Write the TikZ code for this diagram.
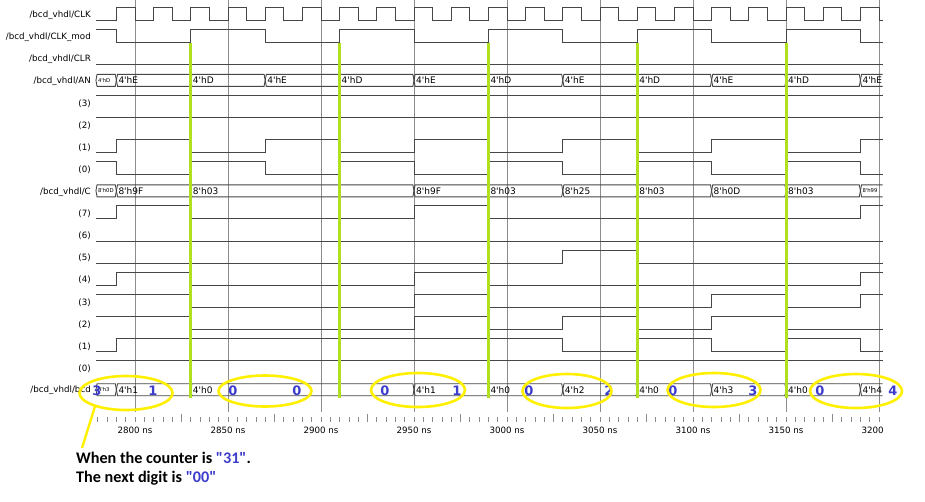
\documentclass[tikz,border=0pt]{standalone}
\usepackage{fontspec}
\usepackage{tikz}
\usetikzlibrary{shapes.geometric, positioning}
\newfontfamily\wavefont{DejaVu Sans}
\newfontfamily\notefont{Carlito}
\newcommand{\apos}{\textquotesingle}
\definecolor{wavegray}{RGB}{70,70,70}
\definecolor{gridgray}{RGB}{140,140,140}
\definecolor{markgreen}{RGB}{176,224,30}
\definecolor{ringyellow}{RGB}{255,240,0}
\definecolor{digitblue}{RGB}{60,60,205}
\tikzstyle{wave} = [draw=wavegray, line width=0.9pt]
\tikzstyle{gridline} = [draw=gridgray, line width=0.7pt]
\tikzstyle{tick} = [draw=gridgray, line width=0.7pt]
\tikzstyle{siglabel} = [anchor=east, inner sep=0pt, font=\wavefont\fontsize{8.7}{10}\selectfont]
\tikzstyle{timelabel} = [inner sep=0pt, font=\wavefont\fontsize{8.7}{10}\selectfont]
\tikzstyle{busfont} = [anchor=west, inner sep=0.8pt, font=\wavefont\fontsize{9}{10}\selectfont]
\tikzstyle{smallval} = [font=\wavefont\fontsize{5.3}{6}\selectfont]
\tikzstyle{marker} = [draw=markgreen, line width=3pt]
\tikzstyle{ring} = [ellipse, draw=ringyellow, line width=2.6pt, inner sep=0pt]
\tikzstyle{pointer} = [draw=ringyellow, line width=2.4pt]
\tikzstyle{digit} = [text=digitblue, inner sep=0pt, font=\wavefont\bfseries\fontsize{13}{14}\selectfont]
\tikzstyle{note} = [anchor=base west, inner sep=0pt, font=\notefont\bfseries\fontsize{16.2}{19}\selectfont]
\tikzset{sigrow/.style={shift={(0,{15+22.1*#1})}}}
% bus value: [style] name, start, end, text
\newcommand{\busval}[5][]{%
  \draw[wave] ({#3},-1) -- ({#3+0.6},-7) -- ({#4-0.6},-7) -- ({#4},-1) -- ({#4-0.6},5) -- ({#3+0.6},5) -- cycle;
  \node[busfont,#1] (#2) at ({#3+0.6},-1) {#5};}
% last bus value, open on the right
\newcommand{\busopen}[4][]{%
  \draw[wave] (402,-7) -- ({#3+0.6},-7) -- ({#3},-1) -- ({#3+0.6},5) -- (402,5);
  \node[busfont,#1] (#2) at ({#3+0.6},-1) {#4};}
% one bit: row, start level, time/level list
\newcommand{\bitwave}[3]{%
  \begin{scope}[sigrow=#1]
  \draw[wave] (-21,{5-13*#2}) foreach \t/\v in {#3} { -| (\t,{5-13*\v}) };
  \end{scope}}

\begin{document}
\begin{tikzpicture}[x=1pt, y=-1pt, node distance=1.5cm]
	\fill[white] (0,0) rectangle (925,501);
	\useasboundingbox (0,0) rectangle (925,501);
	% signal names
	\foreach \lbl [count=\i from 0] in {{/bcd\_vhdl/CLK}, {/bcd\_vhdl/CLK\_mod}, {/bcd\_vhdl/CLR}, {/bcd\_vhdl/AN}, {(3)}, {(2)}, {(1)}, {(0)}, {/bcd\_vhdl/C}, {(7)}, {(6)}, {(5)}, {(4)}, {(3)}, {(2)}, {(1)}, {(0)}, {/bcd\_vhdl/bcd}}
		\node[siglabel] (sig\i) at (91,{15+22.1*\i}) {\lbl};
	\begin{scope}[shift={(135,0)}, x=1.86pt]
		% grid and time axis
		\foreach \t in {0,50,...,400} \draw[gridline] (\t,0) -- (\t,412);
		\foreach \t in {-20,-15,...,400} \draw[tick] (\t,417) -- (\t,422);
		\foreach \t in {25,75,...,375} \draw[tick] (\t,414) -- (\t,417);
		\begin{scope}
			\clip (-25,422) rectangle (402,442);
			\foreach \t [evaluate=\t as \ns using int(2800+\t)] in {0,50,...,400}
				\node[timelabel] (ns\t) at (\t,430) {\ns\ ns};
		\end{scope}
		% CLK
		\begin{scope}[sigrow=0]
			\draw[wave] (-21,5) foreach \k in {0,...,20} { -| ({-10+20*\k},-8) -| ({20*\k},5) } -| (402,5);
		\end{scope}
		% CLK_mod
		\begin{scope}[sigrow=1]
			\draw[wave] (-21,-8) -| (-10,5) foreach \k in {0,...,4} { -| ({30+80*\k},-8) -| ({70+80*\k},5) } -| (402,5);
		\end{scope}
		\begin{scope}[sigrow=2]
			\draw[wave] (-21,5) -- (402,5);
		\end{scope}
		% AN
		\begin{scope}[sigrow=3]
			\busval[smallval]{an0}{-21}{-10}{4\apos hD}
			\foreach \k in {0,...,4} {
				\busval{anE\k}{-10+80*\k}{30+80*\k}{4\apos hE}
				\busval{anD\k}{30+80*\k}{70+80*\k}{4\apos hD}
			}
			\busopen{anE5}{390}{4\apos hE}
		\end{scope}
		\bitwave{4}{1}{402/1}
		\bitwave{5}{1}{402/1}
		\begin{scope}[sigrow=6]
			\draw[wave] (-21,5) -| (-10,-8) foreach \k in {0,...,4} { -| ({30+80*\k},5) -| ({70+80*\k},-8) } -| (402,-8);
		\end{scope}
		\begin{scope}[sigrow=7]
			\draw[wave] (-21,-8) -| (-10,5) foreach \k in {0,...,4} { -| ({30+80*\k},-8) -| ({70+80*\k},5) } -| (402,5);
		\end{scope}
		% C
		\begin{scope}[sigrow=8]
			\busval[smallval]{c0}{-21}{-10}{8\apos h0D}
			\busval{c1}{-10}{30}{8\apos h9F}
			\busval{c2}{30}{150}{8\apos h03}
			\busval{c3}{150}{190}{8\apos h9F}
			\busval{c4}{190}{230}{8\apos h03}
			\busval{c5}{230}{270}{8\apos h25}
			\busval{c6}{270}{310}{8\apos h03}
			\busval{c7}{310}{350}{8\apos h0D}
			\busval{c8}{350}{390}{8\apos h03}
			\busopen[smallval]{c9}{390}{8\apos h99}
		\end{scope}
		\bitwave{9}{0}{-10/1, 30/0, 150/1, 190/0, 390/1, 402/1}
		\bitwave{10}{0}{402/0}
		\bitwave{11}{0}{230/1, 270/0, 402/0}
		\bitwave{12}{0}{-10/1, 30/0, 150/1, 190/0, 390/1, 402/1}
		\bitwave{13}{1}{30/0, 150/1, 190/0, 310/1, 350/0, 390/1, 402/1}
		\bitwave{14}{1}{30/0, 150/1, 190/0, 230/1, 270/0, 310/1, 350/0, 402/0}
		\bitwave{15}{0}{-10/1, 230/0, 270/1, 310/0, 350/1, 390/0, 402/0}
		\bitwave{16}{1}{402/1}
		% bcd
		\begin{scope}[sigrow=17]
			\busval[smallval]{bcd0}{-21}{-10}{4\apos h3}
			\busval{bcd1}{-10}{30}{4\apos h1}
			\busval{bcd2}{30}{150}{4\apos h0}
			\busval{bcd3}{150}{190}{4\apos h1}
			\busval{bcd4}{190}{230}{4\apos h0}
			\busval{bcd5}{230}{270}{4\apos h2}
			\busval{bcd6}{270}{310}{4\apos h0}
			\busval{bcd7}{310}{350}{4\apos h3}
			\busval{bcd8}{350}{390}{4\apos h0}
			\busopen{bcd9}{390}{4\apos h4}
		\end{scope}
		\foreach \t in {30,110,190,270,350} \draw[marker] (\t,43) -- (\t,398);
	\end{scope}
	% digits shown on the display
	\node[digit] (d1) at (97,391) {3};
	\node[digit] (d2) at (153,391) {1};
	\node[digit] (d3) at (233,391) {0};
	\node[digit] (d4) at (297,391) {0};
	\node[digit] (d5) at (385,391) {0};
	\node[digit] (d6) at (457,391) {1};
	\node[digit] (d7) at (529,391) {0};
	\node[digit] (d8) at (609,391) {2};
	\node[digit] (d9) at (673,391) {0};
	\node[digit] (d10) at (753,391) {3};
	\node[digit] (d11) at (820,391) {0};
	\node[digit] (d12) at (893,391) {4};
	\node[ring, minimum width=93pt, minimum height=34pt] (ring1) at (126,393) {};
	\node[ring, minimum width=93pt, minimum height=31pt] (ring2) at (265,391) {};
	\node[ring, minimum width=94pt, minimum height=34pt] (ring3) at (418,390) {};
	\node[ring, minimum width=89pt, minimum height=34pt] (ring4) at (567,391) {};
	\node[ring, minimum width=93pt, minimum height=34pt] (ring5) at (714,390) {};
	\node[ring, minimum width=92pt, minimum height=34pt] (ring6) at (856,391) {};
	\coordinate (tip) at (82,448);
	\draw[pointer] (ring1.204) -- (tip);
	\node[note] (note1) at (76,463) {When the counter is \textcolor{digitblue}{"31"}.};
	\node[note, below=19pt of note1.base west, anchor=base west] (note2) {The next digit is \textcolor{digitblue}{"00"}};
\end{tikzpicture}
\end{document}
